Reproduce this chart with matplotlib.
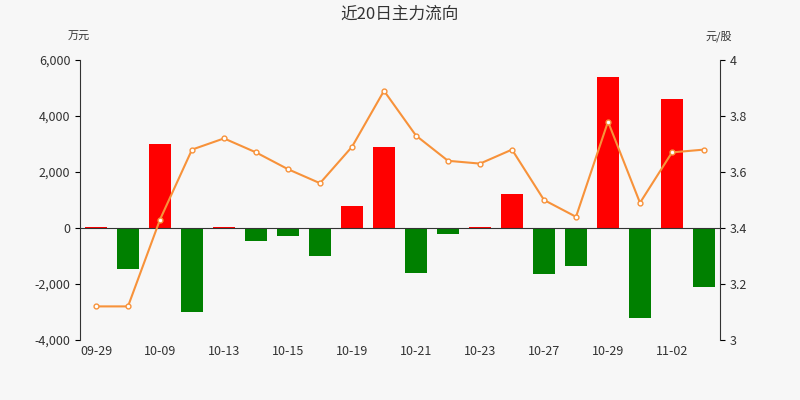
import matplotlib
matplotlib.use("Agg")
import matplotlib.pyplot as plt
import numpy as np

plt.rcParams['font.family'] = ['Noto Sans CJK SC', 'DejaVu Sans']

dates = ["09-29","09-30","10-09","10-12","10-13","10-14","10-15","10-16","10-19","10-20",
         "10-21","10-22","10-23","10-26","10-27","10-28","10-29","10-30","11-02","11-03"]
flow = [50,-1450,3000,-3000,50,-450,-300,-1000,800,2900,
        -1600,-200,50,1200,-1650,-1350,5400,-3200,4600,-2100]
price = [3.12,3.12,3.43,3.68,3.72,3.67,3.61,3.56,3.69,3.89,
         3.73,3.64,3.63,3.68,3.50,3.44,3.78,3.49,3.67,3.68]

fig = plt.figure(figsize=(8,4), dpi=100, facecolor='#f7f7f7')
ax = fig.add_axes([0.1, 0.15, 0.8, 0.70])
ax.set_facecolor('#f7f7f7')
x = np.arange(len(dates))
colors = ['#ff0000' if v >= 0 else '#008000' for v in flow]
ax.bar(x, flow, width=0.68, color=colors, zorder=2)
ax.set_ylim(-4000, 6000)
ax.set_xlim(-0.5, len(dates)-0.5)
ax.set_yticks(range(-4000, 6001, 2000))
ax.set_yticklabels([f"{v:,}" for v in range(-4000, 6001, 2000)], fontsize=9, color='#333')
ax.axhline(0, color='#333', lw=0.8, zorder=3)
ax.set_xticks(x[::2])
ax.set_xticklabels(dates[::2], fontsize=9, color='#333')
for s in ['top','right']:
    ax.spines[s].set_visible(False)
ax.spines['left'].set_color('#333')
ax.spines['bottom'].set_visible(False)
ax.tick_params(axis='x', length=0)

ax2 = ax.twinx()
ax2.plot(x, price, color='#f7923a', lw=1.5, marker='o', ms=3.5, mfc='white', mec='#f7923a', zorder=4)
ax2.set_ylim(3, 4)
ax2.set_yticks([3, 3.2, 3.4, 3.6, 3.8, 4])
ax2.set_yticklabels(['3','3.2','3.4','3.6','3.8','4'], fontsize=9, color='#333')
for s in ['top','left','bottom']:
    ax2.spines[s].set_visible(False)
ax2.spines['right'].set_color('#333')

fig.text(0.5, 0.965, '近20日主力流向', ha='center', va='center', fontsize=12, color='#333')
fig.text(0.085, 0.9, '万元', fontsize=8, color='#333')
fig.text(0.882, 0.9, '元/股', fontsize=8, color='#333')
fig.savefig('out.png', dpi=100, facecolor=fig.get_facecolor())
